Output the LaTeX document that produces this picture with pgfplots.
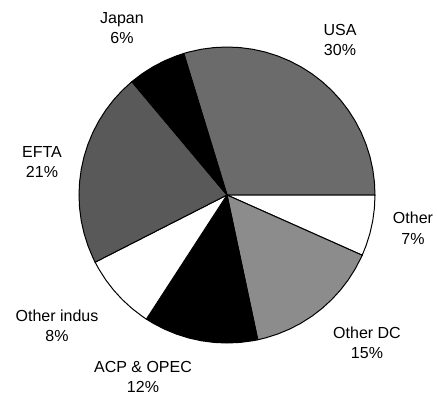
\documentclass[border=0pt]{standalone}
\usepackage{pgfplots}
\pgfplotsset{compat=1.18}
\usepgfplotslibrary{polar}
\usepackage{fontspec}
\setmainfont{Liberation Sans}
\begin{document}
\begin{tikzpicture}[x=1pt,y=1pt]
\begin{polaraxis}[hide axis, scale only axis, width=296pt, height=296pt,
  ymin=0, ymax=1, at={(0,0)}, anchor=origin, clip=false]
% USA 30%
\addplot[fill=black!58, draw=black, line width=1pt] coordinates {(0,0) (0,1) (5,1) (10,1) (15,1) (20,1) (25,1) (30,1) (35,1) (40,1) (45,1) (50,1) (55,1) (60,1) (65,1) (70,1) (75,1) (80,1) (85,1) (90,1) (95,1) (100,1) (105,1) (107,1) (0,0)} -- cycle;
% Other 7%
\addplot[fill=white, draw=black, line width=1pt] coordinates {(0,0) (-24,1) (-20,1) (-15,1) (-10,1) (-5,1) (0,1) (0,0)} -- cycle;
% Other DC 15%
\addplot[fill=black!45, draw=black, line width=1pt] coordinates {(0,0) (-78,1) (-75,1) (-70,1) (-65,1) (-60,1) (-55,1) (-50,1) (-45,1) (-40,1) (-35,1) (-30,1) (-25,1) (-24,1) (0,0)} -- cycle;
% ACP & OPEC 12%
\addplot[fill=black, draw=black, line width=1pt] coordinates {(0,0) (-123,1) (-120,1) (-115,1) (-110,1) (-105,1) (-100,1) (-95,1) (-90,1) (-85,1) (-80,1) (-78,1) (0,0)} -- cycle;
% Other indus 8%
\addplot[fill=white, draw=black, line width=1pt] coordinates {(0,0) (-153,1) (-150,1) (-145,1) (-140,1) (-135,1) (-130,1) (-125,1) (-123,1) (0,0)} -- cycle;
% EFTA 21%
\addplot[fill=black!65, draw=black, line width=1pt] coordinates {(0,0) (130,1) (135,1) (140,1) (145,1) (150,1) (155,1) (160,1) (165,1) (170,1) (175,1) (180,1) (185,1) (190,1) (195,1) (200,1) (205,1) (207,1) (0,0)} -- cycle;
% Japan 6%
\addplot[fill=black, draw=black, line width=1pt] coordinates {(0,0) (107,1) (110,1) (115,1) (120,1) (125,1) (130,1) (0,0)} -- cycle;
\end{polaraxis}
\pgfresetboundingbox
\path (-227,-205) rectangle (210,195);
\begin{scope}[every node/.style={align=center, inner sep=0pt, font=\fontsize{16}{20.5}\selectfont}]
\node at (-105,167) {Japan\\6\%};
\node at (113,155) {USA\\30\%};
\node at (-185,33) {EFTA\\21\%};
\node at (186,-33) {Other\\7\%};
\node at (140,-148) {Other DC\\15\%};
\node at (-170,-131) {Other indus\\8\%};
\node at (-84,-182) {ACP \& OPEC\\12\%};
\end{scope}
\end{tikzpicture}
\end{document}
